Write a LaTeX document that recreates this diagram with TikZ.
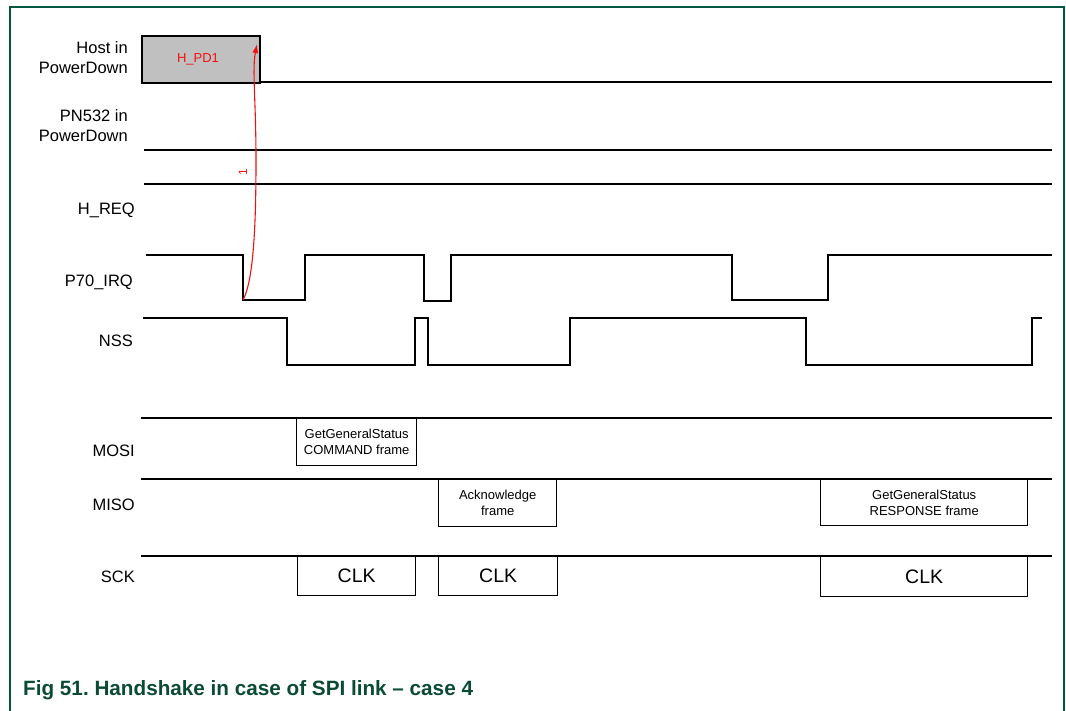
\documentclass[tikz,border=0pt]{standalone}
\usepackage{fontspec}
\setmainfont{Liberation Sans}
\usetikzlibrary{arrows.meta}
\definecolor{frameg}{HTML}{00563F}
\definecolor{titleg}{HTML}{0B4A33}
\definecolor{boxgray}{HTML}{C0C0C0}
\definecolor{arrred}{HTML}{F01010}
\begin{document}
\begin{tikzpicture}[x=1pt,y=-1pt,
  lbl/.style={anchor=east,align=right,inner sep=0pt,font=\fontsize{16.5}{20}\selectfont},
  sig/.style={line width=1.8pt,line join=miter},
  frm/.style={draw,line width=1.4pt,fill=white,inner sep=0pt,align=center,font=\fontsize{13}{16}\selectfont,anchor=north west},
  clk/.style={frm,font=\fontsize{19.5}{22}\selectfont}]
\useasboundingbox (0,0) rectangle (1066,710);
% frame
\draw[frameg,line width=1.5pt] (10,712) -- (10,7) -- (1064,7) -- (1064,712);
% labels
\node[lbl] (lhost) at (128,58) {Host in\\PowerDown};
\node[lbl] (lpn) at (128,126) {PN532 in\\PowerDown};
\node[lbl] (lhreq) at (135,210) {H\_REQ};
\node[lbl] (lirq) at (133,282) {P70\_IRQ};
\node[lbl] (lnss) at (133,341) {NSS};
\node[lbl] (lmosi) at (135,451) {MOSI};
\node[lbl] (lmiso) at (135,505) {MISO};
\node[lbl] (lsck) at (135,577) {SCK};
% host powerdown
\node[draw,line width=1.8pt,fill=boxgray,minimum width=118pt,minimum height=47pt,anchor=north west,inner sep=0pt] (hpd) at (141,35) {};
\node[text=arrred,font=\fontsize{13}{15}\selectfont] (hpdt) at (198,59) {H\_PD1};
\draw[sig] (259,82) -- (1052,82);
% PN532 line
\draw[line width=1.5pt] (144,150) -- (1052,150);
% H_REQ line
\draw[line width=2.2pt] (144,184) -- (1052,184);
% P70_IRQ
\draw[sig] (146,255) -- (243,255) -- (243,300) -- (305,300) -- (305,255) -- (424,255) -- (424,301) -- (451,301) -- (451,255) -- (732,255) -- (732,300) -- (828,300) -- (828,255) -- (1052,255);
% NSS
\draw[sig] (143,318) -- (287,318) -- (287,365) -- (415,365) -- (415,318) -- (428,318) -- (428,365) -- (570,365) -- (570,318) -- (806,318) -- (806,365) -- (1032,365) -- (1032,318) -- (1042,318);
% MOSI / MISO / SCK lines
\draw[sig] (141,418) -- (1052,418);
\draw[sig] (141,479) -- (1052,479);
\draw[sig] (141,556) -- (1052,556);
% frames
\node[frm,minimum width=120pt,minimum height=47pt] (cmd) at (296,418) {GetGeneralStatus\\COMMAND frame};
\node[frm,minimum width=118pt,minimum height=47pt] (ack) at (438,479) {Acknowledge\\frame};
\node[frm,minimum width=207pt,minimum height=46pt] (rsp) at (820,479) {GetGeneralStatus\\RESPONSE frame};
\node[clk,minimum width=118pt,minimum height=39pt] (clk1) at (297,556) {CLK};
\node[clk,minimum width=119pt,minimum height=39pt] (clk2) at (438,556) {CLK};
\node[clk,minimum width=207pt,minimum height=40pt] (clk3) at (820,556) {CLK};
% red arrow
\coordinate (rs) at (243,300);
\coordinate (re) at (257,44);
\draw[arrred,line width=1.1pt,-{Latex[length=9pt,width=6pt]}] (rs) .. controls (254,280) and (256,220) .. (256,160) .. controls (256,100) and (252,70) .. (re);
\node[text=arrred,rotate=90,font=\fontsize{12}{14}\selectfont,inner sep=0pt] (one) at (243,172) {1};
% title
\node[anchor=west,text=titleg,font=\bfseries\fontsize{20.7}{24}\selectfont,inner sep=0pt] (title) at (23,690) {Fig 51.\ Handshake in case of SPI link -- case 4};
\end{tikzpicture}
\end{document}
